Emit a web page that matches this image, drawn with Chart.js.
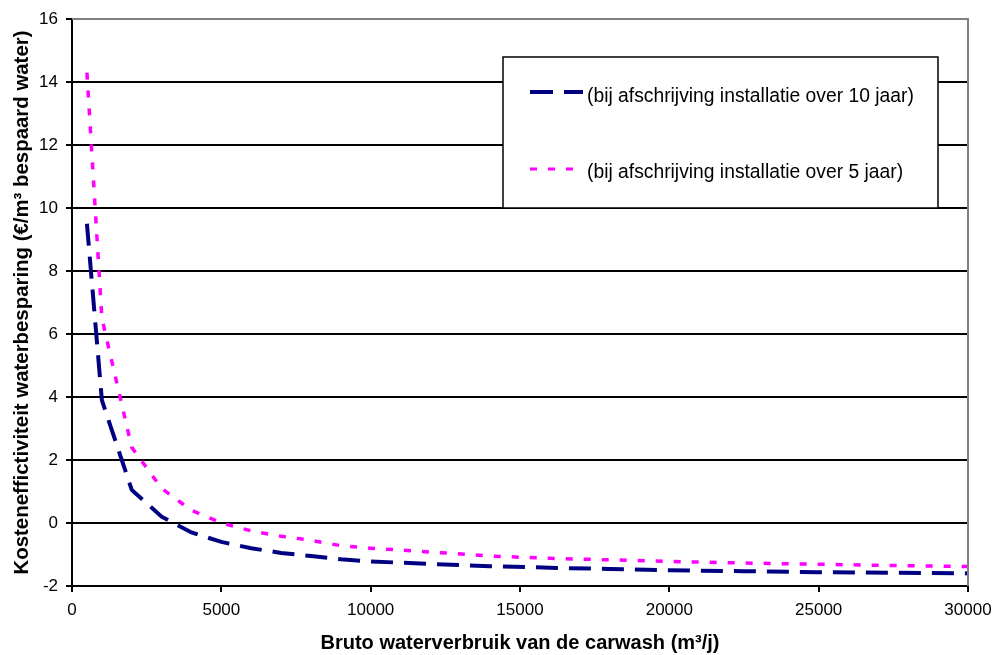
<!DOCTYPE html>
<html>
<head>
<meta charset="utf-8">
<script src="https://cdn.jsdelivr.net/npm/chart.js@4/dist/chart.umd.min.js"></script>
<style>
  html, body { margin: 0; padding: 0; background: #fff; }
  #chart { display: block; }
</style>
</head>
<body>
<canvas id="chart" width="995" height="655"></canvas>
<script>
// water use of the carwash (m3/j)
const volumes = [500, 1000, 2000, 3000, 4000, 5000, 6000, 7000, 8000, 9000, 10000,
  12000, 14000, 16000, 18000, 20000, 22500, 25000, 27500, 30000];
// cost effectiveness, 10 year write-off
const tenYears = [9.5, 3.9, 1.05, 0.2, -0.3, -0.6, -0.8, -0.95, -1.05, -1.15, -1.22,
  -1.3, -1.37, -1.42, -1.46, -1.5, -1.53, -1.56, -1.58, -1.6];
// cost effectiveness, 5 year write-off
const fiveYears = [14.3, 6.5, 2.4, 1.1, 0.4, 0.0, -0.25, -0.42, -0.55, -0.72, -0.8,
  -0.92, -1.05, -1.12, -1.17, -1.22, -1.27, -1.31, -1.35, -1.38];

const seriesLabels = ["(bij afschrijving installatie over 10 jaar)",
  "(bij afschrijving installatie over 5 jaar)"];

const FONT = "'Liberation Sans', Arial, sans-serif";

const toPoints = (ys) => volumes.map((x, i) => ({ x: x, y: ys[i] }));

// box legend + grey plot-area border like the old Excel chart
const boxLegend = {
  id: "boxLegend",
  afterDraw(chart) {
    const ctx = chart.ctx;
    const area = chart.chartArea;
    ctx.save();
    // plot area border top/right
    ctx.strokeStyle = "#808080";
    ctx.lineWidth = 2;
    ctx.beginPath();
    ctx.moveTo(area.left, area.top);
    ctx.lineTo(area.right, area.top);
    ctx.lineTo(area.right, area.bottom);
    ctx.stroke();

    const bx = 503, by = 57, bw = 435, bh = 151;
    ctx.fillStyle = "#fff";
    ctx.fillRect(bx, by, bw, bh);
    ctx.strokeStyle = "#000";
    ctx.lineWidth = 1.5;
    ctx.strokeRect(bx, by, bw, bh);

    const items = [
      { color: "#000080", width: 4, dash: [23, 11], lineY: 92, textY: 97 },
      { color: "#ff00ff", width: 3, dash: [7, 11], lineY: 169, textY: 173 },
    ];
    items.forEach((it, i) => {
      ctx.strokeStyle = it.color;
      ctx.lineWidth = it.width;
      ctx.setLineDash(it.dash);
      ctx.beginPath();
      ctx.moveTo(530, it.lineY);
      ctx.lineTo(i === 0 ? 583 : 575, it.lineY);
      ctx.stroke();
      ctx.setLineDash([]);
      ctx.fillStyle = "#000";
      ctx.font = "19.3px " + FONT;
      ctx.textBaseline = "middle";
      ctx.textAlign = "left";
      ctx.fillText(seriesLabels[i], 587, it.textY);
    });
    ctx.restore();
  },
};

let ctx = document.getElementById("chart").getContext("2d");
let chart = new Chart(ctx, {
  type: "line",
  data: {
    datasets: [
      {
        label: seriesLabels[0],
        data: toPoints(tenYears),
        borderColor: "#000080",
        borderWidth: 4,
        borderDash: [22, 11],
        pointRadius: 0,
        tension: 0,
        fill: false,
      },
      {
        label: seriesLabels[1],
        data: toPoints(fiveYears),
        borderColor: "#ff00ff",
        borderWidth: 3.5,
        borderDash: [7, 11],
        pointRadius: 0,
        tension: 0,
        fill: false,
      },
    ],
  },
  options: {
    responsive: false,
    animation: false,
    devicePixelRatio: 1,
    layout: { padding: { left: 0, right: 27, top: 19, bottom: 0 } },
    plugins: {
      legend: { display: false },
      tooltip: { enabled: false },
    },
    scales: {
      x: {
        type: "linear",
        min: 0,
        max: 30000,
        afterFit: (scale) => {
          scale.height = 69;
          scale.paddingLeft = 0;
          scale.paddingRight = 0;
        },
        ticks: {
          stepSize: 5000,
          color: "#000",
          padding: 8,
          maxRotation: 0,
          font: { family: FONT, size: 17 },
          callback: (v) => String(v),
        },
        grid: {
          drawOnChartArea: false,
          drawTicks: true,
          tickLength: 6,
          tickColor: "#000",
          lineWidth: 2,
        },
        border: { color: "#000", width: 2 },
        title: {
          display: true,
          text: "Bruto waterverbruik van de carwash (m³/j)",
          color: "#000",
          font: { family: FONT, size: 20, weight: "bold" },
          padding: { top: 0, bottom: 0 },
        },
      },
      y: {
        min: -2,
        max: 16,
        afterFit: (scale) => {
          scale.width = 72;
          scale.paddingTop = 0;
          scale.paddingBottom = 0;
        },
        ticks: {
          stepSize: 2,
          color: "#000",
          padding: 8,
          font: { family: FONT, size: 17 },
        },
        grid: {
          color: (c) => (c.tick && c.tick.value === 16 ? "#808080" : "#000"),
          lineWidth: 2,
          tickLength: 6,
          tickColor: "#000",
        },
        border: { color: "#000", width: 2 },
        title: {
          display: true,
          text: "Kosteneffictiviteit waterbesparing (€/m³ bespaard water)",
          color: "#000",
          font: { family: FONT, size: 20.4, weight: "bold" },
          padding: { top: 10, bottom: 0 },
        },
      },
    },
  },
  plugins: [boxLegend],
});
</script>
</body>
</html>
